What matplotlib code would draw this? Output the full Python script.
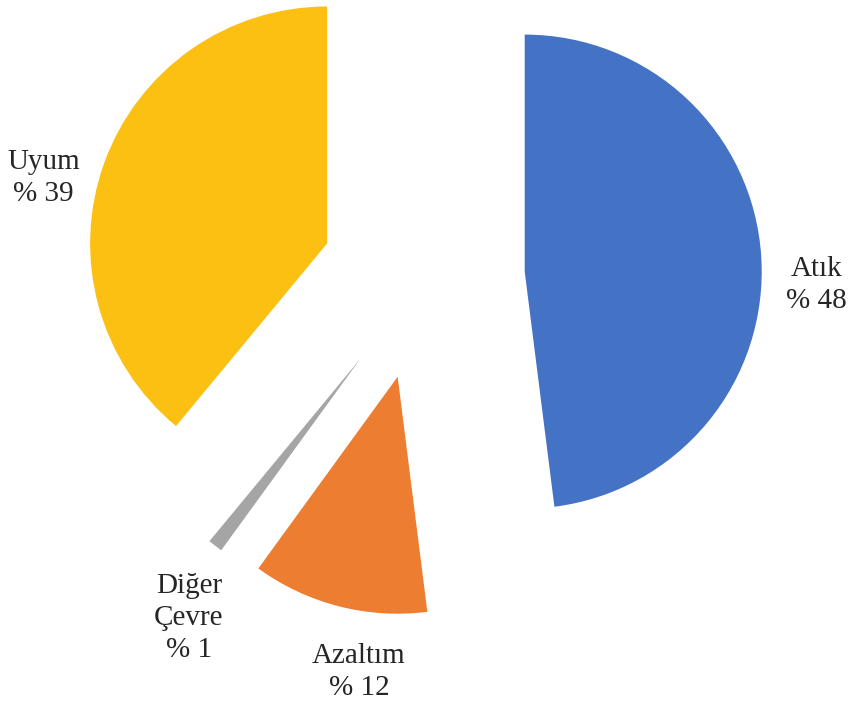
import matplotlib.pyplot as plt

# Pie data (percentages), clockwise from 12 o'clock
categories = ['Atık', 'Azaltım', 'Diğer\nÇevre', 'Uyum']
shares = [48, 12, 1, 39]
colors = ['#4472C4', '#ED7D31', '#A5A5A5', '#FBC012']

plt.rcParams['font.family'] = ['Liberation Serif', 'DejaVu Serif']

PX = 237.0  # pixels per unit radius

fig = plt.figure(figsize=(8.49, 7.02), dpi=100)
ax = fig.add_axes([0, 0, 1, 1])

labels = [f'{c}\n% {v}' for c, v in zip(categories, shares)]
wedges, texts = ax.pie(shares, labels=labels, colors=colors, startangle=90,
                       counterclock=False, explode=[0.43] * len(shares),
                       labeldistance=1.25, radius=1.0,
                       wedgeprops=dict(linewidth=0))

# Excel-style label placement nudges (pixels)
nudges = [(-4, -32), (35, -8), (10, -25), (-5, -35)]
for t, (dx, dy) in zip(texts, nudges):
    x, y = t.get_position()
    t.set_position((x + dx / PX, y + dy / PX))
    t.set_ha('center')
    t.set_va('center')
    t.set_fontsize(21)
    t.set_linespacing(1.3)
    t.set_color('#262626')

# pie centre sits at about (423, 278) px
ax.set_xlim(-423 / PX, (849 - 423) / PX)
ax.set_ylim(-(702 - 278) / PX, 278 / PX)
ax.set_aspect('auto')
ax.axis('off')

fig.savefig('out.png', dpi=100)
